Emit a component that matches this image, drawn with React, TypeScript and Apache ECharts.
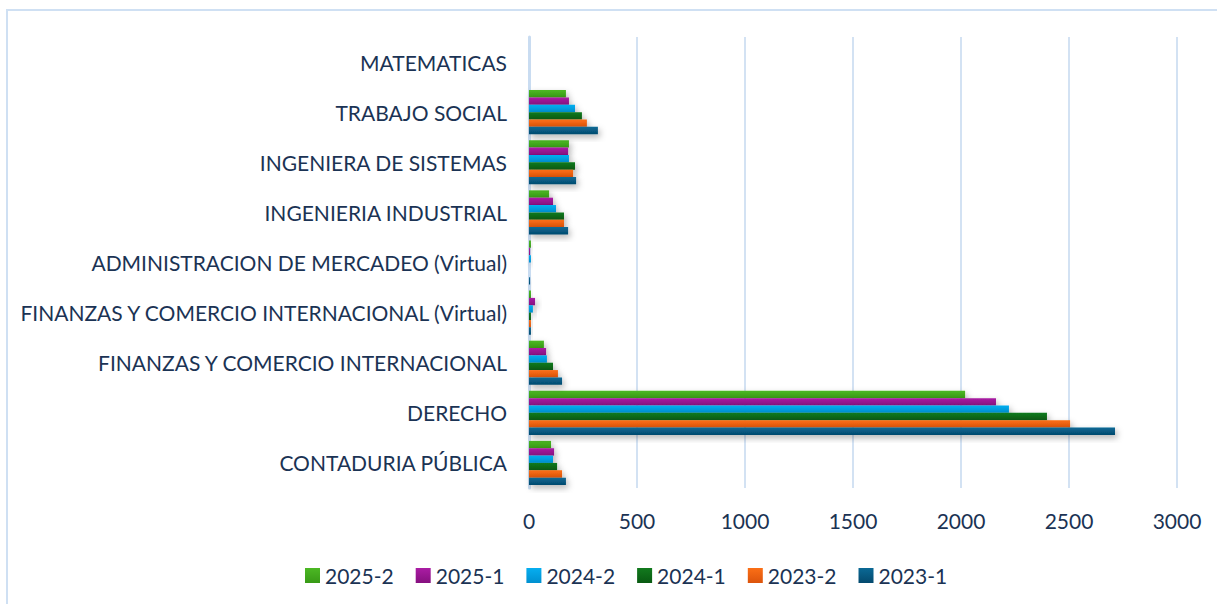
import React, { useEffect, useRef } from "react";
import * as echarts from "echarts";

const categories = [
  "CONTADURIA PÚBLICA",
  "DERECHO",
  "FINANZAS Y COMERCIO INTERNACIONAL",
  "FINANZAS Y COMERCIO INTERNACIONAL (Virtual)",
  "ADMINISTRACION DE MERCADEO (Virtual)",
  "INGENIERIA INDUSTRIAL",
  "INGENIERA DE SISTEMAS",
  "TRABAJO SOCIAL",
  "MATEMATICAS",
];

const s2023_1 = [171, 2713, 153, 9, 5, 181, 218, 319, 0];
const s2023_2 = [153, 2505, 134, 9, 0, 162, 204, 268, 0];
const s2024_1 = [130, 2398, 111, 9, 0, 162, 213, 245, 0];
const s2024_2 = [111, 2222, 83, 18, 9, 125, 185, 213, 0];
const s2025_1 = [116, 2162, 79, 28, 5, 111, 181, 185, 0];
const s2025_2 = [102, 2019, 69, 9, 9, 93, 185, 171, 0];

const xTicks = [0, 500, 1000, 1500, 2000, 2500, 3000];

const seriesDefs = [
  { name: "2025-2", data: s2025_2, top: "#4cb824", bottom: "#389a16" },
  { name: "2025-1", data: s2025_1, top: "#aa1ca4", bottom: "#86107f" },
  { name: "2024-2", data: s2024_2, top: "#06aef0", bottom: "#0090d0" },
  { name: "2024-1", data: s2024_1, top: "#127a1e", bottom: "#095a12" },
  { name: "2023-2", data: s2023_2, top: "#fb6f16", bottom: "#dc540c" },
  { name: "2023-1", data: s2023_1, top: "#0b6995", bottom: "#044a6e" },
];

const legendOrder = ["2025-2", "2025-1", "2024-2", "2024-1", "2023-2", "2023-1"];

const TEXT = "#1b3354";
const FONT = "Lato";

export default function App() {
  const ref = useRef<HTMLDivElement>(null);
  useEffect(() => {
    if (!ref.current) return;
    const chart = echarts.init(ref.current, null, { renderer: "svg" });
    chart.setOption({
      animation: false,
      backgroundColor: "#ffffff",
      graphic: [
        {
          type: "rect",
          shape: { x: 7, y: 10, width: 1300, height: 700 },
          style: { fill: "none", stroke: "#cfe0f3", lineWidth: 2 },
          silent: true,
        },
      ],
      grid: { left: 529, right: 40, top: 37, bottom: 116, containLabel: false },
      legend: {
        data: legendOrder,
        left: 300,
        top: 560,
        itemWidth: 15,
        itemHeight: 15,
        itemGap: 22,
        icon: "rect",
        textStyle: { color: TEXT, fontFamily: FONT, fontSize: 21 },
      },
      xAxis: {
        type: "value",
        min: xTicks[0],
        max: xTicks[xTicks.length - 1],
        interval: 500,
        axisLine: { show: false },
        axisTick: { show: false },
        splitLine: { lineStyle: { color: "#d3e2f3", width: 2 } },
        axisLabel: {
          color: TEXT,
          fontFamily: FONT,
          fontSize: 21,
          margin: 22,
          formatter: (v: number) => String(v),
        },
      },
      yAxis: {
        type: "category",
        data: categories,
        axisLine: { show: true, lineStyle: { color: "#c9dcf1", width: 3 } },
        axisTick: { show: false },
        axisLabel: { color: TEXT, fontFamily: FONT, fontSize: 21, margin: 22 },
      },
      series: seriesDefs.map((s) => ({
        name: s.name,
        type: "bar",
        data: s.data,
        barGap: "0%",
        barCategoryGap: "12%",
        itemStyle: {
          color: new echarts.graphic.LinearGradient(0, 0, 0, 1, [
            { offset: 0, color: s.top },
            { offset: 1, color: s.bottom },
          ]),
          shadowBlur: 6,
          shadowColor: "rgba(0,0,0,0.3)",
          shadowOffsetX: 2,
          shadowOffsetY: 3,
        },
      })),
    });
    return () => chart.dispose();
  }, []);
  return (
    <div
      ref={ref}
      style={{ position: "absolute", left: 0, top: 0, width: 1217, height: 604 }}
    />
  );
}
